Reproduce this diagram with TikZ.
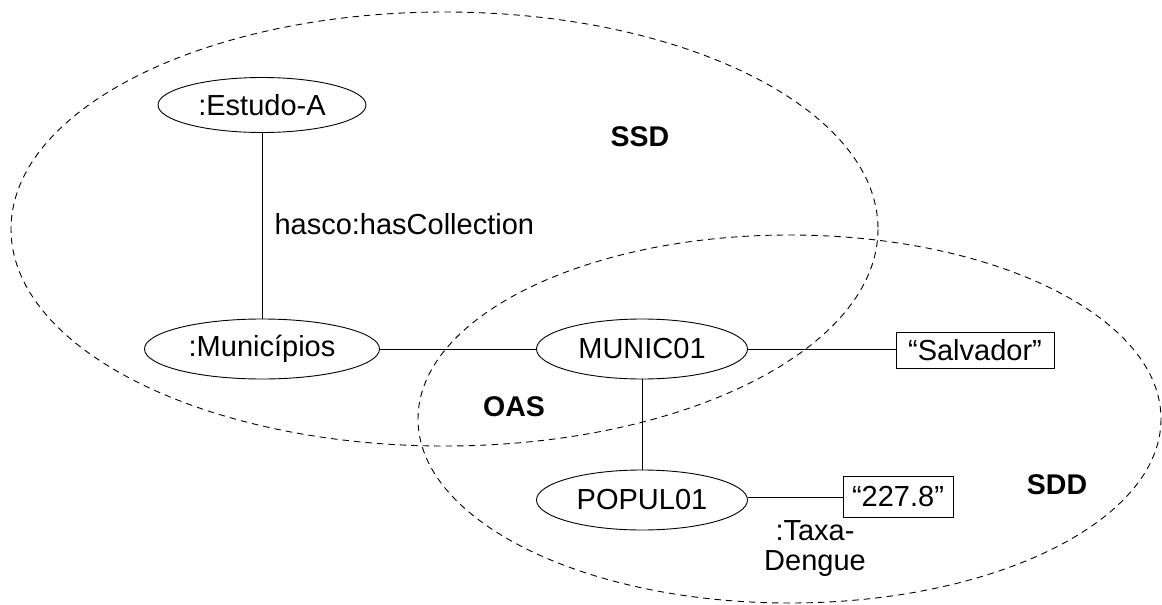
\documentclass[tikz,border=0pt]{standalone}
\usepackage{fontspec}
\setmainfont{Liberation Sans}
\usetikzlibrary{shapes.geometric}
\begin{document}
\begin{tikzpicture}[x=1pt,y=-1pt,
  every node/.style={font=\fontsize{29}{31}\selectfont},
  ent/.style={draw,ellipse,line width=0.9pt,inner sep=0pt},
  lit/.style={draw,rectangle,line width=0.9pt,inner sep=0pt},
  region/.style={draw,dashed,dash pattern=on 6.5pt off 5pt,line width=0.9pt},
  conn/.style={line width=0.9pt},
  lbl/.style={font=\fontsize{28.5}{30}\selectfont\bfseries}]
\useasboundingbox (0,0) rectangle (1162,605);
% regions
\draw[region] (444.5,229) ellipse [x radius=433.5, y radius=217];
\draw[region] (789.5,419) ellipse [x radius=371.5, y radius=184];
% nodes
\node[ent,minimum width=208pt,minimum height=55pt] (estudo) at (262,105) {:Estudo-A};
\node[ent,minimum width=235pt,minimum height=60pt] (munic) at (262,349) {:Municípios};
\node[ent,minimum width=211pt,minimum height=60pt] (m01) at (642,349) {MUNIC01};
\node[ent,minimum width=211pt,minimum height=60pt] (p01) at (642,500) {POPUL01};
\node[lit,minimum width=158pt,minimum height=36pt] (salv) at (975,350) {“Salvador”};
\node[lit,minimum width=110pt,minimum height=41pt] (val) at (898,497) {“227.8”};
% connectors
\draw[conn] (estudo) -- (munic);
\draw[conn] (munic.east) -- (m01.west);
\draw[conn] (m01.east) -- (m01.east -| salv.west);
\draw[conn] (m01) -- (p01);
\draw[conn] (p01.east |- val.west) -- (val.west);
% labels
\node[anchor=west] (hc) at (271,224) {hasco:hasCollection};
\node[align=center,font=\fontsize{29}{30}\selectfont] (td) at (815,549) {:Taxa-\\Dengue};
\node[lbl] (ssd) at (640,137) {SSD};
\node[lbl] (oas) at (514,407) {OAS};
\node[lbl] (sdd) at (1057,485) {SDD};
\end{tikzpicture}
\end{document}
